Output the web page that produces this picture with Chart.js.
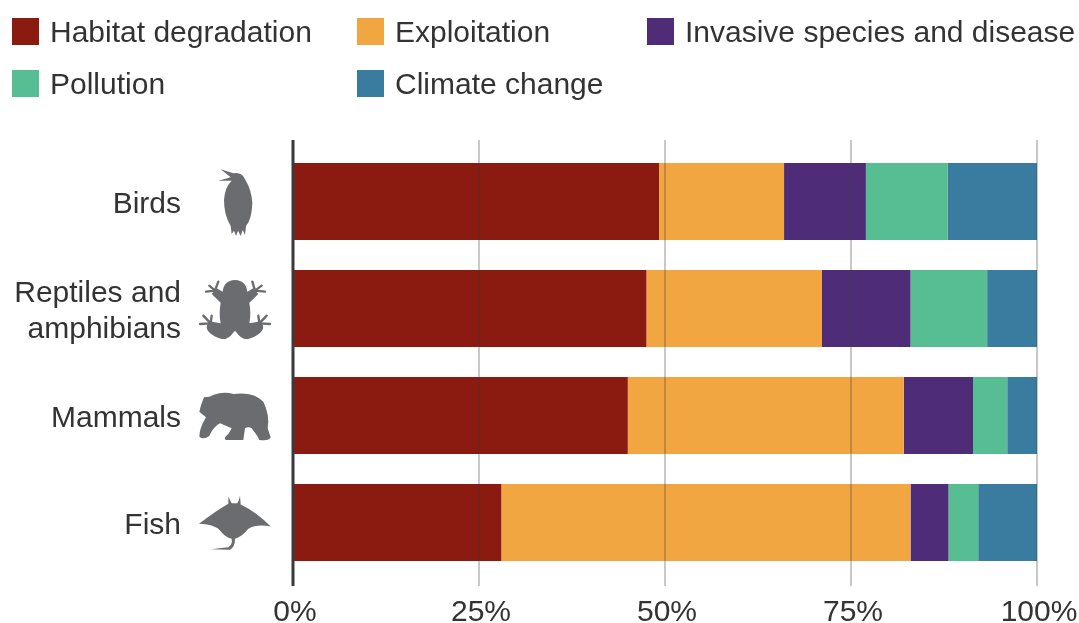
<!DOCTYPE html>
<html>
<head>
<meta charset="utf-8">
<title>Threats by animal group</title>
<script src="https://cdn.jsdelivr.net/npm/chart.js@4/dist/chart.umd.min.js"></script>
<style>
  html, body { margin: 0; padding: 0; background: #fff; overflow: hidden; }
  #wrap { position: relative; width: 1079px; height: 623px; }
  #chart { position: absolute; left: 0; top: 0; }
  #legend div { position: absolute; font: 30px "Liberation Sans", sans-serif; color: #333; line-height: 28px; white-space: nowrap; z-index: 2; }
  #legend i { position: absolute; left: -38px; top: 0; width: 27px; height: 27px; }
</style>
</head>
<body>
<div id="wrap">
  <canvas id="chart" width="1079" height="623"></canvas>
  <div id="legend"></div>
</div>
<script>
const categories = ['Birds', ['Reptiles and', 'amphibians'], 'Mammals', 'Fish'];
const threats = ['Habitat degradation', 'Exploitation', 'Invasive species and disease', 'Pollution', 'Climate change'];
const colors = ['#8B1A10', '#F2A641', '#4E2C78', '#57BD92', '#3A7CA0'];

const habitat = [49.2, 47.5, 45, 28];
const exploitation = [16.8, 23.6, 37.1, 55];
const invasive = [11, 11.9, 9.3, 5.1];
const pollution = [11, 10.3, 4.6, 4];
const climate = [12, 6.7, 4, 8];
const seriesValues = [habitat, exploitation, invasive, pollution, climate];

const legendSpots = [[50, 18], [395, 18], [685, 18], [50, 70], [395, 70]];

// silhouettes, 3x units, y relative to a crop origin
const icons = [
  { dy: -61.5, d: 'M662 88 L700 100 Q725 95 735 118 Q755 150 757 190 Q755 240 738 258 L735 285 L728 270 L722 288 L714 272 L708 288 L702 272 L695 282 L692 258 Q672 225 672 180 Q675 140 695 122 L655 122 L692 112 Z' },
  { dy: -168.5,
    d: 'M705 420 C728 420 740 435 742 455 L760 445 L775 462 L748 488 C752 510 752 530 748 550 L775 545 C800 552 795 582 745 597 C722 600 712 578 705 572 C698 578 688 600 665 597 C615 582 610 552 635 545 L662 550 C658 530 658 510 662 488 L635 462 L650 445 L668 455 C670 435 682 420 705 420 Z',
    toes: 'M645 452 L655 425 M645 452 L628 437 M645 452 L618 455 M765 452 L757 425 M765 452 L785 437 M765 452 L795 455 M632 550 L635 527 M632 550 L610 527 M632 550 L600 552 M778 550 L775 527 M778 550 L800 527 M778 550 L810 552' },
  { dy: -55.5, d: 'M612 112 L628 110 Q665 92 700 102 Q760 94 790 125 Q810 165 803 205 L812 232 Q808 244 778 240 L772 228 L755 205 Q745 198 735 205 L730 240 L678 240 Q668 234 685 222 L695 205 L660 190 Q640 200 628 228 Q610 240 598 230 Q598 205 618 172 L598 155 Q602 135 612 112 Z' },
  { dy: -162, d: 'M597 490 Q650 450 685 430 L685 408 Q690 420 695 428 L712 428 Q718 420 720 406 L722 432 Q770 455 812 498 Q770 490 745 505 Q725 530 705 535 Q705 560 690 568 L632 566 L685 560 Q698 553 695 535 Q675 530 660 510 Q640 490 597 490 Z' }
];

threats.forEach((name, i) => {
  const el = document.createElement('div');
  el.style.left = legendSpots[i][0] + 'px';
  el.style.top = legendSpots[i][1] + 'px';
  el.innerHTML = '<i style="background:' + colors[i] + '"></i>' + name;
  document.getElementById('legend').appendChild(el);
});

// axis + gridlines run past the plot area and sit on top of the bars
const overlay = {
  id: 'overlay',
  afterDatasetsDraw(chart) {
    const { ctx, scales: { x, y } } = chart;
    ctx.save();
    x.ticks.forEach(t => {
      if (t.value === 0) return;
      ctx.strokeStyle = 'rgba(60,60,60,0.38)';
      ctx.lineWidth = 1.5;
      ctx.beginPath();
      ctx.moveTo(x.getPixelForValue(t.value), y.top - 8);
      ctx.lineTo(x.getPixelForValue(t.value), y.bottom + 10);
      ctx.stroke();
    });
    ctx.strokeStyle = '#3A3A3C';
    ctx.lineWidth = 3;
    ctx.beginPath();
    ctx.moveTo(x.left, y.top - 8);
    ctx.lineTo(x.left, y.bottom + 10);
    ctx.stroke();

    ctx.fillStyle = '#6B6C70';
    ctx.strokeStyle = '#6B6C70';
    icons.forEach((icon, i) => {
      ctx.save();
      ctx.translate(0, y.getPixelForValue(i) + icon.dy);
      ctx.scale(1 / 3, 1 / 3);
      ctx.fill(new Path2D(icon.d));
      if (icon.toes) {
        ctx.lineWidth = 7;
        ctx.lineCap = 'round';
        ctx.stroke(new Path2D(icon.toes));
      }
      ctx.restore();
    });
    ctx.restore();
  }
};

new Chart(document.getElementById('chart'), {
  type: 'bar',
  data: {
    labels: categories,
    datasets: threats.map((name, i) => ({
      label: name,
      data: seriesValues[i],
      backgroundColor: colors[i],
      borderWidth: 0,
      barPercentage: 0.72,
      categoryPercentage: 1
    }))
  },
  options: {
    indexAxis: 'y',
    responsive: false,
    maintainAspectRatio: false,
    animation: false,
    layout: { padding: { top: 148, right: 42 } },
    plugins: { legend: { display: false }, tooltip: { enabled: false } },
    scales: {
      x: {
        stacked: true,
        min: 0,
        max: 100,
        grid: { display: false },
        border: { display: false },
        afterFit(s) { s.height = 47; s.paddingLeft = 0; s.paddingRight = 0; },
        ticks: {
          stepSize: 25,
          maxRotation: 0,
          padding: 11,
          labelOffset: 2,
          color: '#333',
          font: { family: '"Liberation Sans", sans-serif', size: 30 },
          callback: v => v + '%'
        }
      },
      y: {
        stacked: true,
        grid: { display: false },
        border: { display: false },
        afterFit(s) { s.width = 293; s.paddingTop = 0; s.paddingBottom = 0; },
        ticks: {
          padding: 104,
          labelOffset: 3,
          color: '#333',
          font: { family: '"Liberation Sans", sans-serif', size: 30, lineHeight: 1.2 }
        }
      }
    }
  },
  plugins: [overlay]
});
</script>
</body>
</html>
